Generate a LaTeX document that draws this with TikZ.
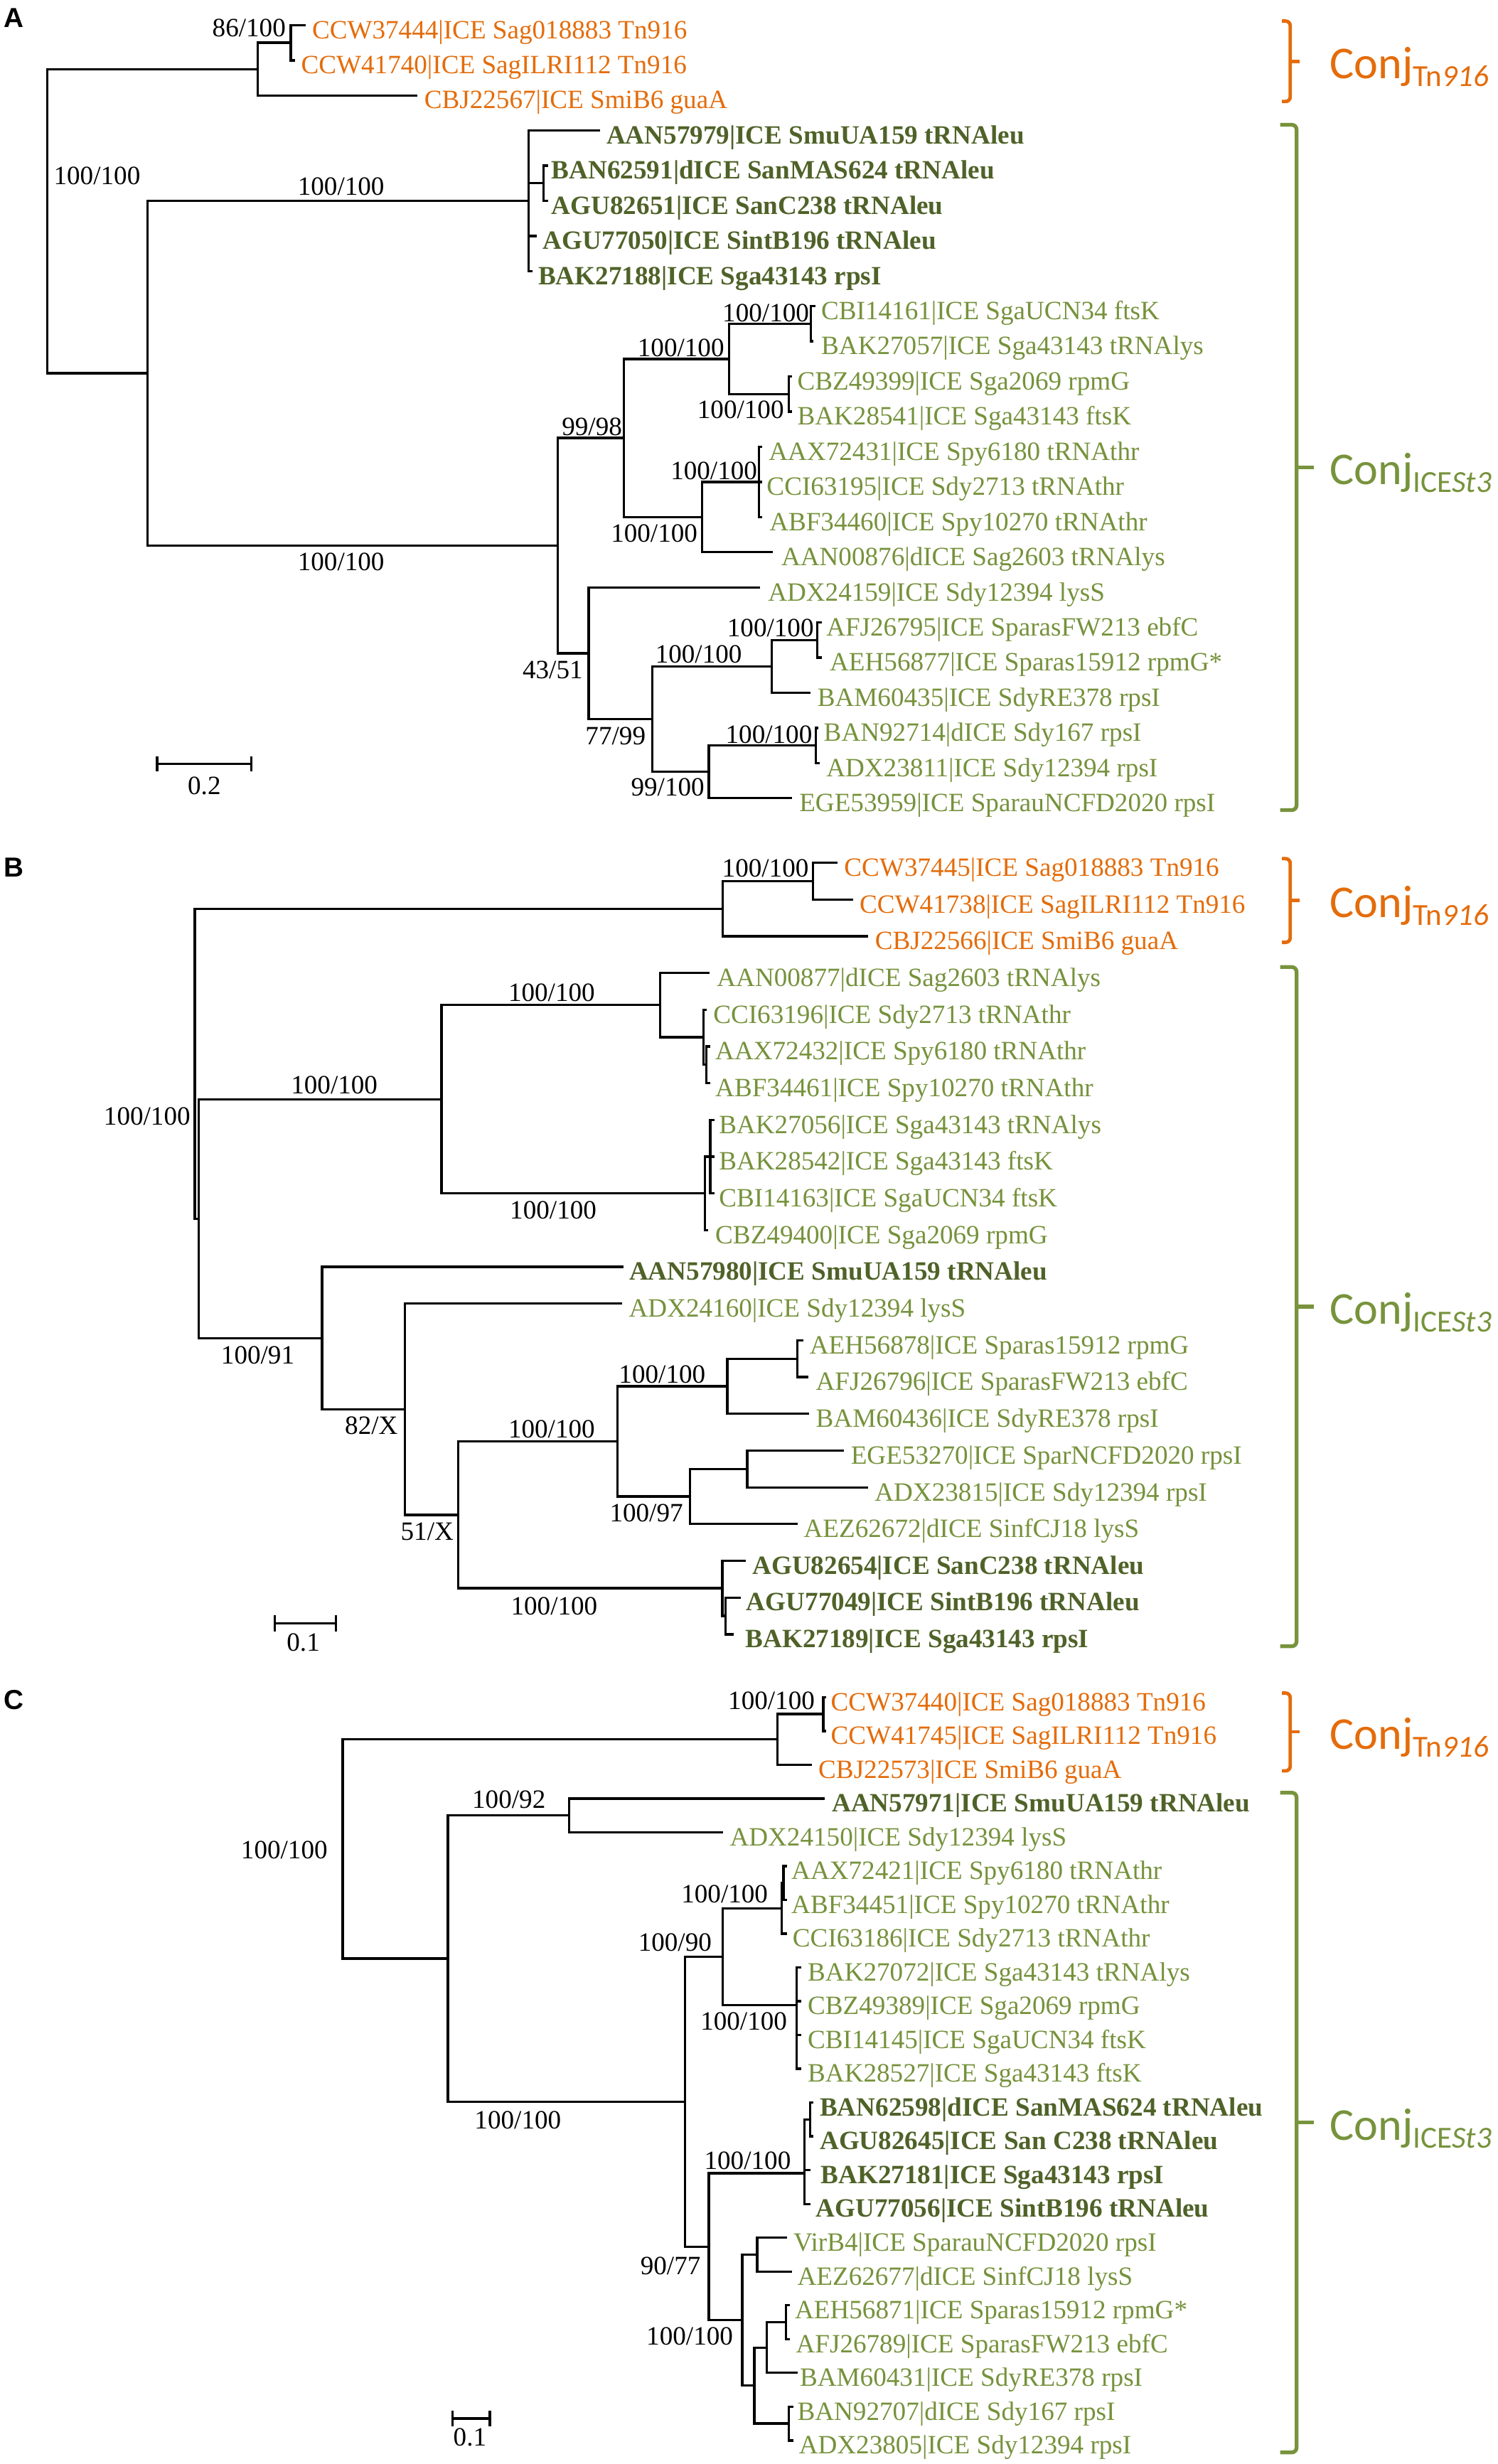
\documentclass[tikz,border=0pt]{standalone}
\usepackage{fontspec}
\setmainfont{Liberation Serif}
\newfontfamily\calibfont{Carlito}
\newfontfamily\panelfont{Liberation Sans}
\definecolor{orng}{RGB}{228,108,10}
\definecolor{lgrn}{RGB}{118,146,60}
\definecolor{dgrn}{RGB}{79,98,40}
\definecolor{bgrn}{RGB}{119,147,60}
\newcommand\lblfont{\fontsize{16.8}{18}\selectfont}
\tikzset{
  br/.style={line width=1.5pt, line cap=rect},
  lo/.style={text=orng, font=\lblfont, inner sep=0pt},
  lg/.style={text=lgrn, font=\lblfont, inner sep=0pt},
  lb/.style={text=dgrn, font=\lblfont\bfseries, inner sep=0pt},
  sup/.style={font=\lblfont, inner sep=0pt},
  panel/.style={font=\panelfont\bfseries\fontsize{17.5}{18}\selectfont, inner sep=0pt, anchor=base west},
  braceO/.style={draw=orng, line width=2.2pt, rounded corners=3pt},
  braceG/.style={draw=bgrn, line width=2.4pt, rounded corners=3pt},
  conjo/.style={text=orng, font=\calibfont\fontsize{29}{30}\selectfont, inner sep=0pt, anchor=base west},
  conjg/.style={text=bgrn, font=\calibfont\fontsize{29}{30}\selectfont, inner sep=0pt, anchor=base west},
}
% leaf: #1 name, #2 parent, #3 tip x, #4 tip y, #5 label x, #6 style, #7 text
\newcommand\leafnode[7]{\coordinate (#1) at (#3,#4); \draw[br] (#2) |- (#1);
  \node[#6, anchor=base west] (#1-t) at (#5,#4+8.5) {#7};}
% internal node: #1 name, #2 parent, #3 x, #4 y
\newcommand\innode[4]{\coordinate (#1) at (#3,#4); \draw[br] (#2) |- (#1);}
\newcommand\subTn{\raisebox{-5pt}{\fontsize{19.5}{20}\selectfont Tn\itshape 916}}
\newcommand\subICE{\raisebox{-5pt}{\fontsize{19.5}{20}\selectfont ICE\itshape St3}}
\begin{document}
\begin{tikzpicture}[x=1pt,y=-1pt]
\useasboundingbox (0,0) rectangle (953,1568);
\fill[white] (0,0) rectangle (953,1568);

%================ PANEL A ================
\node[panel] (pA) at (2.5,17.3) {A};
\coordinate (Ar) at (30,140.7);
\innode{A164}{Ar}{164}{44}
\innode{A185}{A164}{185}{27.2}
\leafnode{a1}{A185}{194}{16}{198.4}{lo}{CCW37444|ICE Sag018883 Tn916}
\leafnode{a2}{A185}{187}{38.4}{191.4}{lo}{CCW41740|ICE SagILRI112 Tn916}
\leafnode{a3}{A164}{265}{60.7}{269.8}{lo}{CBJ22567|ICE SmiB6 guaA}
\innode{A94}{Ar}{94}{237.5}
\innode{A336}{A94}{336.5}{127.8}
\leafnode{a4}{A336}{381}{83.1}{385.7}{lb}{AAN57979|ICE SmuUA159 tRNAleu}
\innode{A346}{A336}{346}{116.6}
\leafnode{a5}{A346}{348}{105.4}{350.8}{lb}{BAN62591|dICE SanMAS624 tRNAleu}
\leafnode{a6}{A346}{348}{127.8}{350.8}{lb}{AGU82651|ICE SanC238 tRNAleu}
\leafnode{a7}{A336}{341}{150.2}{345.4}{lb}{AGU77050|ICE SintB196 tRNAleu}
\leafnode{a8}{A336}{338}{172.5}{342.3}{lb}{BAK27188|ICE Sga43143 rpsI}
\innode{A355}{A94}{355}{347.2}
\innode{A397}{A355}{397}{278.7}
\innode{A464}{A397}{464}{228.4}
\innode{A516}{A464}{516}{206}
\leafnode{a9}{A516}{518}{194.9}{522.4}{lg}{CBI14161|ICE SgaUCN34 ftsK}
\leafnode{a10}{A516}{517}{217.2}{522.4}{lg}{BAK27057|ICE Sga43143 tRNAlys}
\innode{A502}{A464}{502}{250.8}
\leafnode{a11}{A502}{503}{239.6}{507.2}{lg}{CBZ49399|ICE Sga2069 rpmG}
\leafnode{a12}{A502}{503}{262}{507.2}{lg}{BAK28541|ICE Sga43143 ftsK}
\innode{A446}{A397}{446.6}{329}
\innode{A483}{A446}{483}{306.7}
\leafnode{a13}{A483}{484}{284.3}{489}{lg}{AAX72431|ICE Spy6180 tRNAthr}
\leafnode{a14}{A483}{484}{306.7}{487.7}{lg}{CCI63195|ICE Sdy2713 tRNAthr}
\leafnode{a15}{A483}{484}{329}{489.4}{lg}{ABF34460|ICE Spy10270 tRNAthr}
\leafnode{a16}{A446}{491}{351.4}{497}{lg}{AAN00876|dICE Sag2603 tRNAlys}
\innode{A374}{A355}{374.6}{415.7}
\leafnode{a17}{A374}{483}{373.8}{488.5}{lg}{ADX24159|ICE Sdy12394 lysS}
\innode{A415}{A374}{415}{457.6}
\innode{A491}{A415}{491}{424}
\innode{A520}{A491}{520}{407.3}
\leafnode{a18}{A520}{522}{396.1}{525.6}{lg}{AFJ26795|ICE SparasFW213 ebfC}
\leafnode{a19}{A520}{522}{418.5}{527.8}{lg}{AEH56877|ICE Sparas15912 rpmG*}
\leafnode{a20}{A491}{515}{440.8}{520}{lg}{BAM60435|ICE SdyRE378 rpsI}
\innode{A451}{A415}{451}{491.1}
\innode{A519}{A451}{519}{474.4}
\leafnode{a21}{A519}{520}{463.2}{524}{lg}{BAN92714|dICE Sdy167 rpsI}
\leafnode{a22}{A519}{521}{485.6}{525.6}{lg}{ADX23811|ICE Sdy12394 rpsI}
\leafnode{a23}{A451}{503}{507.9}{508.4}{lg}{EGE53959|ICE SparauNCFD2020 rpsI}
% supports A
\node[sup, anchor=base east] (sa1) at (182,23.4) {86/100};
\node[sup, anchor=base west] (sa2) at (34,117.4) {100/100};
\node[sup, anchor=base] (sa3) at (217,124.3) {100/100};
\node[sup, anchor=base] (sa4) at (217,363) {100/100};
\node[sup, anchor=base east] (sa5) at (396,277) {99/98};
\node[sup, anchor=base east] (sa6) at (515,204.8) {100/100};
\node[sup, anchor=base east] (sa7) at (461,227) {100/100};
\node[sup, anchor=base east] (sa8) at (499,266.4) {100/100};
\node[sup, anchor=base east] (sa9) at (482,305.3) {100/100};
\node[sup, anchor=base east] (sa10) at (444,344.8) {100/100};
\node[sup, anchor=base east] (sa11) at (371,432) {43/51};
\node[sup, anchor=base east] (sa12) at (518,405.3) {100/100};
\node[sup, anchor=base west] (sa13) at (416.8,422) {100/100};
\node[sup, anchor=base east] (sa14) at (411,474) {77/99};
\node[sup, anchor=base east] (sa15) at (517,473) {100/100};
\node[sup, anchor=base east] (sa16) at (448.4,506.4) {99/100};
% scale A
\coordinate (sAl) at (100,486); \coordinate (sAr) at (160,486);
\draw[br] (sAl) -- (sAr);
\draw[br] (100,482) -- (100,490.3); \draw[br] (160,482) -- (160,490.3);
\node[sup, anchor=base] (scA) at (130,505.7) {0.2};
% braces A
\draw[braceO] (815.7,13.4) -- (821,13.4) -- (821,64.6) -- (815.7,64.6);
\draw[braceO] (821,39) -- (827,39);
\node[conjo] (cA1) at (846,50) {Conj\subTn};
\draw[braceG] (814.6,79.4) -- (825,79.4) -- (825,515.5) -- (814.6,515.5);
\draw[braceG] (825,297.5) -- (836,297.5);
\node[conjg] (cA2) at (846,308.5) {Conj\subICE};

%================ PANEL B ================
\node[panel] (pB) at (2.5,558) {B};
\coordinate (Br) at (124,676.9);
\innode{B460}{Br}{459.8}{578.25}
\innode{B517}{B460}{517.4}{560.7}
\leafnode{b1}{B517}{532}{549}{537}{lo}{CCW37445|ICE Sag018883 Tn916}
\leafnode{b2}{B517}{542}{572.4}{546.8}{lo}{CCW41738|ICE SagILRI112 Tn916}
\leafnode{b3}{B460}{551.8}{595.8}{556.6}{lo}{CBJ22566|ICE SmiB6 guaA}
\innode{B126}{Br}{126.5}{775.5}
\innode{B281}{B126}{281}{699.5}
\innode{B420}{B281}{420}{639.6}
\leafnode{b4}{B420}{450.8}{619.1}{456}{lg}{AAN00877|dICE Sag2603 tRNAlys}
\innode{B447}{B420}{447.6}{660}
\leafnode{b5}{B447}{449}{642.5}{453.7}{lg}{CCI63196|ICE Sdy2713 tRNAthr}
\innode{B449}{B447}{449.5}{677.6}
\leafnode{b6}{B449}{451}{665.9}{455}{lg}{AAX72432|ICE Spy6180 tRNAthr}
\leafnode{b7}{B449}{451}{689.3}{455}{lg}{ABF34461|ICE Spy10270 tRNAthr}
\innode{B448}{B281}{448.5}{759.4}
\innode{B452}{B448}{452}{736}
\leafnode{b8}{B452}{454}{712.7}{457.3}{lg}{BAK27056|ICE Sga43143 tRNAlys}
\leafnode{b9}{B452}{454}{736}{457.3}{lg}{BAK28542|ICE Sga43143 ftsK}
\leafnode{b10}{B452}{454}{759.4}{457.3}{lg}{CBI14163|ICE SgaUCN34 ftsK}
\leafnode{b11}{B448}{450}{782.8}{455}{lg}{CBZ49400|ICE Sga2069 rpmG}
\innode{B205}{B126}{205}{851.5}
\leafnode{b12}{B205}{396}{806.2}{400.2}{lb}{AAN57980|ICE SmuUA159 tRNAleu}
\innode{B258}{B205}{257.7}{896.8}
\leafnode{b13}{B258}{395}{829.6}{400}{lg}{ADX24160|ICE Sdy12394 lysS}
\innode{B291}{B258}{291.5}{964}
\innode{B393}{B291}{392.8}{917.2}
\innode{B463}{B393}{462.8}{882.2}
\innode{B507}{B463}{507.2}{864.6}
\leafnode{b14}{B507}{510.4}{852.9}{515}{lg}{AEH56878|ICE Sparas15912 rpmG}
\leafnode{b15}{B507}{513.6}{876.3}{519}{lg}{AFJ26796|ICE SparasFW213 ebfC}
\leafnode{b16}{B463}{514}{899.7}{519}{lg}{BAM60436|ICE SdyRE378 rpsI}
\innode{B439}{B393}{439}{952.3}
\innode{B475}{B439}{475.5}{934.8}
\leafnode{b17}{B475}{536.4}{923.1}{541.2}{lg}{EGE53270|ICE SparNCFD2020 rpsI}
\leafnode{b18}{B475}{551.6}{946.5}{556.4}{lg}{ADX23815|ICE Sdy12394 rpsI}
\leafnode{b19}{B439}{507}{969.8}{511.3}{lg}{AEZ62672|dICE SinfCJ18 lysS}
\innode{B460b}{B291}{459.6}{1010.7}
\leafnode{b20}{B460b}{473.8}{993.2}{478.6}{lb}{AGU82654|ICE SanC238 tRNAleu}
\innode{B462}{B460b}{461.8}{1028.3}
\leafnode{b21}{B462}{470.7}{1016.6}{474.8}{lb}{AGU77049|ICE SintB196 tRNAleu}
\leafnode{b22}{B462}{466}{1040}{474.2}{lb}{BAK27189|ICE Sga43143 rpsI}
% supports B
\node[sup, anchor=base west] (sb1) at (459.3,557.8) {100/100};
\node[sup, anchor=base east] (sb2) at (121.3,716) {100/100};
\node[sup, anchor=base] (sb3) at (212.7,695.8) {100/100};
\node[sup, anchor=base] (sb4) at (351,637) {100/100};
\node[sup, anchor=base] (sb5) at (352,775.8) {100/100};
\node[sup, anchor=base] (sb6) at (164,867.7) {100/91};
\node[sup, anchor=base east] (sb7) at (253.3,912.7) {82/X};
\node[sup, anchor=base east] (sb8) at (288.8,980.3) {51/X};
\node[sup, anchor=base] (sb9) at (351,914.8) {100/100};
\node[sup, anchor=base west] (sb10) at (393.6,880) {100/100};
\node[sup, anchor=base east] (sb11) at (434.8,968.5) {100/97};
\node[sup, anchor=base] (sb12) at (352.6,1027.4) {100/100};
% scale B
\coordinate (sBl) at (174.8,1033); \coordinate (sBr) at (213.6,1033);
\draw[br] (sBl) -- (sBr);
\draw[br] (174.8,1028.7) -- (174.8,1037.4); \draw[br] (213.6,1028.7) -- (213.6,1037.4);
\node[sup, anchor=base] (scB) at (193,1050.8) {0.1};
% braces B
\draw[braceO] (815.7,546.4) -- (821,546.4) -- (821,599.7) -- (815.7,599.7);
\draw[braceO] (821,573) -- (827,573);
\node[conjo] (cB1) at (846,584) {Conj\subTn};
\draw[braceG] (814.6,615.4) -- (825,615.4) -- (825,1047.6) -- (814.6,1047.6);
\draw[braceG] (825,831.5) -- (836,831.5);
\node[conjg] (cB2) at (846,842.5) {Conj\subICE};

%================ PANEL C ================
\node[panel] (pC) at (2.5,1087.6) {C};
\coordinate (Cr) at (218,1176.6);
\innode{C495}{Cr}{494.8}{1106.9}
\innode{C524}{C495}{523.8}{1090.75}
\leafnode{c1}{C524}{525}{1080}{528.5}{lo}{CCW37440|ICE Sag018883 Tn916}
\leafnode{c2}{C524}{525}{1101.5}{528.5}{lo}{CCW41745|ICE SagILRI112 Tn916}
\leafnode{c3}{C495}{515.7}{1123}{520.6}{lo}{CBJ22573|ICE SmiB6 guaA}
\innode{C285}{Cr}{285}{1246.3}
\innode{C362}{C285}{362}{1155.25}
\leafnode{c4}{C362}{523.8}{1144.5}{529.2}{lb}{AAN57971|ICE SmuUA159 tRNAleu}
\leafnode{c5}{C362}{459.5}{1166}{464.2}{lg}{ADX24150|ICE Sdy12394 lysS}
\innode{C436}{C285}{435.8}{1337.35}
\innode{C460}{C436}{459.7}{1245.2}
\innode{C497}{C460}{497.3}{1214.4}
\innode{C498}{C497}{498.5}{1198.25}
\leafnode{c6}{C498}{500}{1187.5}{503.4}{lg}{AAX72421|ICE Spy6180 tRNAthr}
\leafnode{c7}{C498}{500}{1209}{503.4}{lg}{ABF34451|ICE Spy10270 tRNAthr}
\leafnode{c8}{C497}{500}{1230.5}{504.2}{lg}{CCI63186|ICE Sdy2713 tRNAthr}
\innode{C507}{C460}{507}{1276}
\leafnode{c9}{C507}{509}{1252}{513.8}{lg}{BAK27072|ICE Sga43143 tRNAlys}
\leafnode{c10}{C507}{509}{1273.5}{513.8}{lg}{CBZ49389|ICE Sga2069 rpmG}
\leafnode{c11}{C507}{509}{1295}{513.8}{lg}{CBI14145|ICE SgaUCN34 ftsK}
\leafnode{c12}{C507}{509}{1316.5}{513.8}{lg}{BAK28527|ICE Sga43143 ftsK}
\innode{C451}{C436}{451}{1429.7}
\innode{C512}{C451}{512}{1383}
\innode{C515}{C512}{515.5}{1348.75}
\leafnode{c13}{C515}{517}{1338}{521.5}{lb}{BAN62598|dICE SanMAS624 tRNAleu}
\leafnode{c14}{C515}{517}{1359.5}{521.5}{lb}{AGU82645|ICE San C238 tRNAleu}
\leafnode{c15}{C512}{515}{1381}{522.1}{lb}{BAK27181|ICE Sga43143 rpsI}
\leafnode{c16}{C512}{515}{1402.5}{519}{lb}{AGU77056|ICE SintB196 tRNAleu}
\innode{C472}{C451}{472.3}{1476.4}
\innode{C482}{C472}{481.8}{1434.75}
\leafnode{c17}{C482}{500}{1424}{504.7}{lg}{VirB4|ICE SparauNCFD2020 rpsI}
\leafnode{c18}{C482}{503}{1445.5}{507.2}{lg}{AEZ62677|dICE SinfCJ18 lysS}
\innode{C480}{C472}{480}{1518}
\innode{C488}{C480}{488}{1493.9}
\innode{C500}{C488}{500}{1477.75}
\leafnode{c19}{C500}{502}{1467}{505.6}{lg}{AEH56871|ICE Sparas15912 rpmG*}
\leafnode{c20}{C500}{502}{1488.5}{506.3}{lg}{AFJ26789|ICE SparasFW213 ebfC}
\leafnode{c21}{C488}{507}{1510}{508.8}{lg}{BAM60431|ICE SdyRE378 rpsI}
\innode{C502}{C480}{502}{1542.25}
\leafnode{c22}{C502}{504}{1531.5}{507.2}{lg}{BAN92707|dICE Sdy167 rpsI}
\leafnode{c23}{C502}{504}{1553}{508.2}{lg}{ADX23805|ICE Sdy12394 rpsI}
% supports C
\node[sup, anchor=base east] (sc1) at (518.6,1087.6) {100/100};
\node[sup, anchor=base east] (sc2) at (208.6,1182.8) {100/100};
\node[sup, anchor=base] (sc3) at (323.8,1150.7) {100/92};
\node[sup, anchor=base east] (sc4) at (488.8,1211) {100/100};
\node[sup, anchor=base east] (sc5) at (453,1241.7) {100/90};
\node[sup, anchor=base east] (sc6) at (501,1291.6) {100/100};
\node[sup, anchor=base] (sc7) at (329.5,1354.7) {100/100};
\node[sup, anchor=base east] (sc8) at (503.4,1380.5) {100/100};
\node[sup, anchor=base east] (sc9) at (446,1447.5) {90/77};
\node[sup, anchor=base east] (sc10) at (466.6,1492) {100/100};
% scale C
\coordinate (sCl) at (288,1539); \coordinate (sCr) at (311.7,1539);
\draw[br] (sCl) -- (sCr);
\draw[br] (288,1535) -- (288,1543.4); \draw[br] (311.7,1535) -- (311.7,1543.4);
\node[sup, anchor=base] (scC) at (299,1556.4) {0.1};
% braces C
\draw[braceO] (815.7,1077.4) -- (821,1077.4) -- (821,1126.9) -- (815.7,1126.9);
\draw[braceO] (821,1102) -- (827,1102);
\node[conjo] (cC1) at (846,1113) {Conj\subTn};
\draw[braceG] (814.6,1140.8) -- (825,1140.8) -- (825,1560.6) -- (814.6,1560.6);
\draw[braceG] (825,1350.7) -- (836,1350.7);
\node[conjg] (cC2) at (846,1361.7) {Conj\subICE};
\end{tikzpicture}
\end{document}
